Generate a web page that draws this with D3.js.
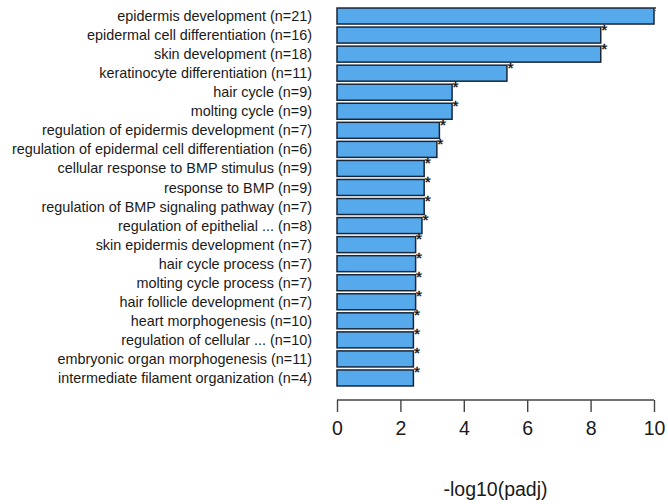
<!DOCTYPE html>
<html>
<head>
<meta charset="utf-8">
<script src="https://cdn.jsdelivr.net/npm/d3@7"></script>
<style>
  html, body { margin: 0; padding: 0; background: #fff; }
  svg { display: block; font-family: "Liberation Sans", Arial, Helvetica, sans-serif; }
</style>
</head>
<body>
<svg id="chart" width="668" height="504"></svg>
<script>
const categories = [
  "epidermis development (n=21)",
  "epidermal cell differentiation (n=16)",
  "skin development (n=18)",
  "keratinocyte differentiation (n=11)",
  "hair cycle (n=9)",
  "molting cycle (n=9)",
  "regulation of epidermis development (n=7)",
  "regulation of epidermal cell differentiation (n=6)",
  "cellular response to BMP stimulus (n=9)",
  "response to BMP (n=9)",
  "regulation of BMP signaling pathway (n=7)",
  "regulation of epithelial ... (n=8)",
  "skin epidermis development (n=7)",
  "hair cycle process (n=7)",
  "molting cycle process (n=7)",
  "hair follicle development (n=7)",
  "heart morphogenesis (n=10)",
  "regulation of cellular ... (n=10)",
  "embryonic organ morphogenesis (n=11)",
  "intermediate filament organization (n=4)"
];
const values = [10.0, 8.32, 8.32, 5.36, 3.63, 3.63, 3.23, 3.15, 2.75, 2.75,
                2.75, 2.68, 2.48, 2.48, 2.48, 2.48, 2.41, 2.41, 2.41, 2.41];
const marks = ["*", "*", "*", "*", "*", "*", "*", "*", "*", "*",
               "*", "*", "*", "*", "*", "*", "*", "*", "*", "*"];
const xTicks = [0, 2, 4, 6, 8, 10];
const xTitle = "-log10(padj)";

const svg = d3.select("#chart");
const x = d3.scaleLinear().domain([0, 10]).range([337, 654]);
const y = d3.scaleBand().domain(categories).range([6.5, 387.5])
  .paddingInner(0.16).paddingOuter(0.08);

svg.append("defs").append("clipPath").attr("id", "plotclip")
  .append("rect").attr("x", 0).attr("y", 0).attr("width", 656).attr("height", 504);

const data = categories.map((c, i) => ({ c, v: values[i], m: marks[i] }));

// bars
svg.append("g").selectAll("rect").data(data).join("rect")
  .attr("x", x(0))
  .attr("y", d => y(d.c))
  .attr("width", d => x(d.v) - x(0))
  .attr("height", y.bandwidth())
  .attr("fill", "#56AAEC")
  .attr("stroke", "#18263a")
  .attr("stroke-width", 1.5);

// stars
svg.append("g").attr("clip-path", "url(#plotclip)")
  .selectAll("text").data(data).join("text")
  .attr("x", d => x(d.v) + 0.5)
  .attr("y", d => y(d.c) + y.bandwidth() / 2 - 0.5)
  .attr("font-size", 15.5)
  .attr("fill", "#111")
  .attr("stroke", "#111")
  .attr("stroke-width", 0.4)
  .text(d => d.m);

// category labels
svg.append("g").selectAll("text").data(data).join("text")
  .attr("x", 312)
  .attr("y", d => y(d.c) + y.bandwidth() / 2)
  .attr("dy", "0.35em")
  .attr("text-anchor", "end")
  .attr("font-size", 14.4)
  .attr("fill", "#1a1a1a")
  .text(d => d.c);

// x axis
const axis = d3.axisBottom(x).tickValues(xTicks).tickSize(12).tickPadding(9)
  .tickFormat(d3.format("d"));
const ag = svg.append("g").attr("transform", "translate(0,400)").call(axis);
ag.select(".domain").attr("stroke", "#444").attr("stroke-width", 1.4)
  .attr("d", `M${x(0)},0H${x(10)}`);
ag.selectAll(".tick line").attr("stroke", "#444").attr("stroke-width", 1.4);
ag.selectAll(".tick text").attr("font-size", 19.5).attr("fill", "#1a1a1a")
  .attr("font-family", "'Liberation Sans', Arial, sans-serif");

// axis title
svg.append("text")
  .attr("x", (x(0) + x(10)) / 2)
  .attr("y", 496)
  .attr("text-anchor", "middle")
  .attr("font-size", 19.5)
  .attr("fill", "#1a1a1a")
  .text(xTitle);
</script>
</body>
</html>
